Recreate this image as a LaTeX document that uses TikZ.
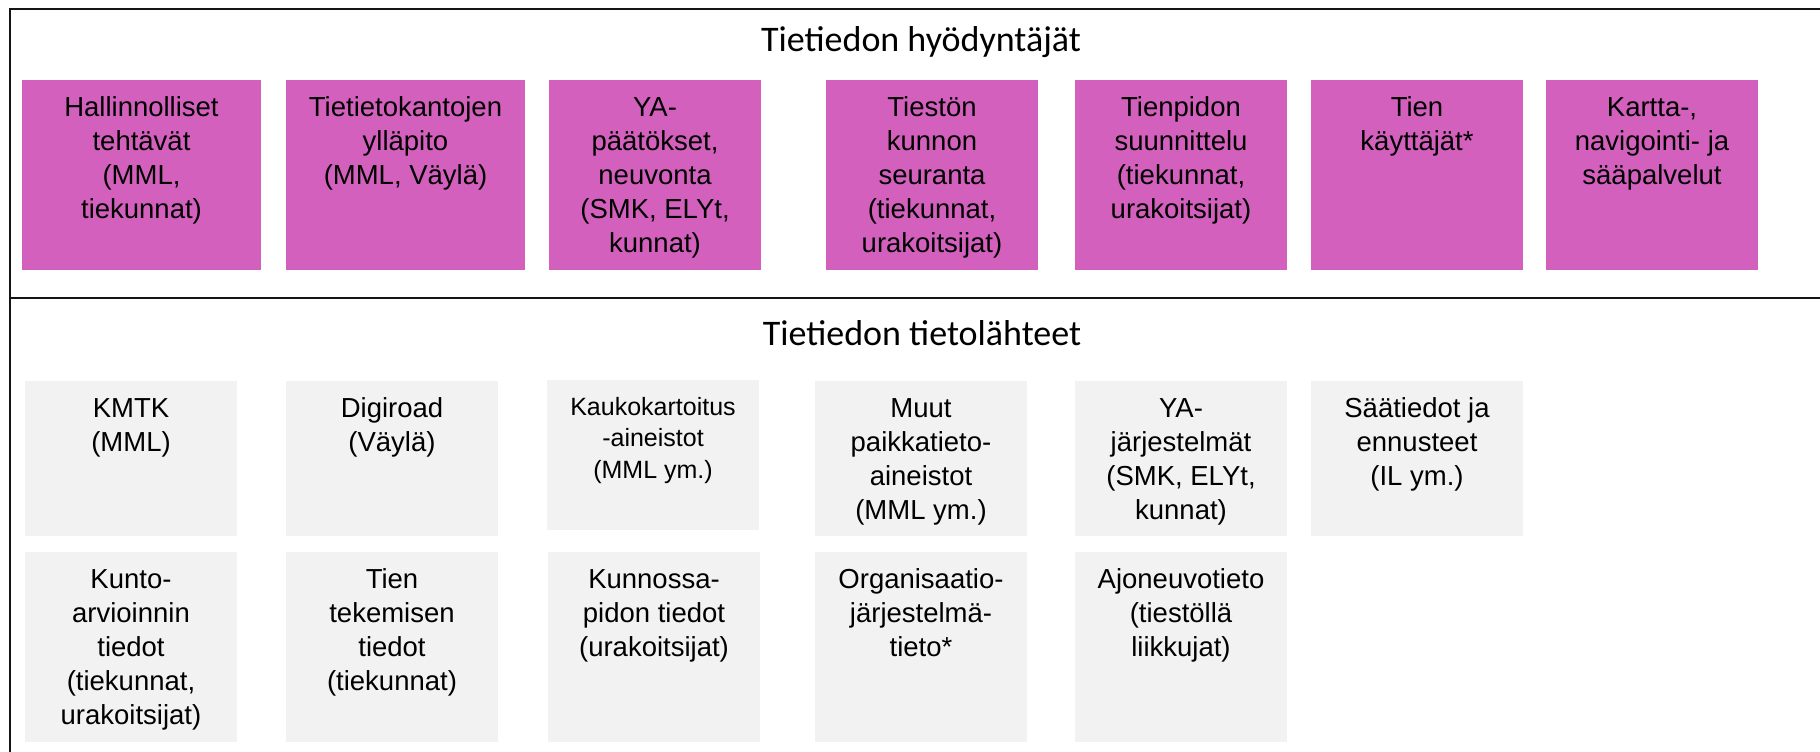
\documentclass[tikz,border=0pt]{standalone}
\usepackage{fontspec}
\setmainfont{Liberation Sans}
\newfontfamily\titlefont{Carlito}
\usepackage{tikz}
\usetikzlibrary{positioning}
\definecolor{userPink}{RGB}{212,96,190}
\definecolor{sourceGray}{RGB}{242,242,242}
\definecolor{frameDark}{RGB}{20,20,20}
% lines of a box, first baseline on top
\newcommand{\boxlines}[1]{\begin{tabular}[t]{@{}c@{}}#1\end{tabular}}
\tikzset{
  userbox/.style={
    rectangle, fill=userPink, anchor=north,
    inner xsep=0pt, inner ysep=0pt, text height=36pt, text depth=154pt,
    font=\fontsize{27.5}{34}\selectfont
  },
  sourcebox/.style={
    rectangle, fill=sourceGray, anchor=north,
    inner xsep=0pt, inner ysep=0pt, text height=36pt, text depth=119pt,
    font=\fontsize{27.5}{34}\selectfont
  },
  tallsource/.style={sourcebox, text depth=154pt},
  sectiontitle/.style={anchor=base, font=\titlefont\fontsize{36}{40}\selectfont}
}

\begin{document}
\begin{tikzpicture}[x=1pt, y=-1pt]
  \useasboundingbox (0,0) rectangle (1820,752);
  % frame of the two sections
  \draw[frameDark, line width=2.5pt] (1820,9) -- (10,9) -- (10,752);
  \draw[frameDark, line width=2.5pt] (10,298) -- (1820,298);

  % users of road data
  \node[sectiontitle] (usersTitle) at (921,52) {Tietiedon hyödyntäjät};
  \node[userbox, minimum width=239pt] (hallinto) at (141.5,80) {\boxlines{Hallinnolliset\\tehtävät\\(MML,\\tiekunnat)}};
  \node[userbox, minimum width=239pt] (kannat) at (405.5,80) {\boxlines{Tietietokantojen\\ylläpito\\(MML, Väylä)}};
  \node[userbox, minimum width=212pt] (paatokset) at (655,80) {\boxlines{YA-\\päätökset,\\neuvonta\\(SMK, ELYt,\\kunnat)}};
  \node[userbox, minimum width=212pt] (seuranta) at (932,80) {\boxlines{Tiestön\\kunnon\\seuranta\\(tiekunnat,\\urakoitsijat)}};
  \node[userbox, minimum width=212pt] (suunnittelu) at (1181,80) {\boxlines{Tienpidon\\suunnittelu\\(tiekunnat,\\urakoitsijat)}};
  \node[userbox, minimum width=212pt] (kayttajat) at (1417,80) {\boxlines{Tien\\käyttäjät*}};
  \node[userbox, minimum width=212pt] (palvelut) at (1652,80) {\boxlines{Kartta-,\\navigointi- ja\\sääpalvelut}};

  % sources of road data
  \node[sectiontitle] (sourcesTitle) at (922,345) {Tietiedon tietolähteet};
  \node[sourcebox, minimum width=212pt] (kmtk) at (131,381) {\boxlines{KMTK\\(MML)}};
  \node[sourcebox, minimum width=212pt] (digiroad) at (392,381) {\boxlines{Digiroad\\(Väylä)}};
  \node[sourcebox, minimum width=212pt, text height=35pt, text depth=115pt,
        font=\fontsize{25}{31.5}\selectfont] (kauko) at (653,380) {\boxlines{Kaukokartoitus\\-aineistot\\(MML ym.)}};
  \node[sourcebox, minimum width=212pt] (muut) at (921,381) {\boxlines{Muut\\paikkatieto-\\aineistot\\(MML ym.)}};
  \node[sourcebox, minimum width=212pt] (yajarj) at (1181,381) {\boxlines{YA-\\järjestelmät\\(SMK, ELYt,\\kunnat)}};
  \node[sourcebox, minimum width=212pt] (saa) at (1417,381) {\boxlines{Säätiedot ja\\ennusteet\\(IL ym.)}};
  \node[tallsource, minimum width=212pt] (kunto) at (131,552) {\boxlines{Kunto-\\arvioinnin\\tiedot\\(tiekunnat,\\urakoitsijat)}};
  \node[tallsource, minimum width=212pt] (tekeminen) at (392,552) {\boxlines{Tien\\tekemisen\\tiedot\\(tiekunnat)}};
  \node[tallsource, minimum width=212pt] (kunnossapito) at (654,552) {\boxlines{Kunnossa-\\pidon tiedot\\(urakoitsijat)}};
  \node[tallsource, minimum width=212pt] (organisaatio) at (921,552) {\boxlines{Organisaatio-\\järjestelmä-\\tieto*}};
  \node[tallsource, minimum width=212pt] (ajoneuvo) at (1181,552) {\boxlines{Ajoneuvotieto\\(tiestöllä\\liikkujat)}};
\end{tikzpicture}
\end{document}
